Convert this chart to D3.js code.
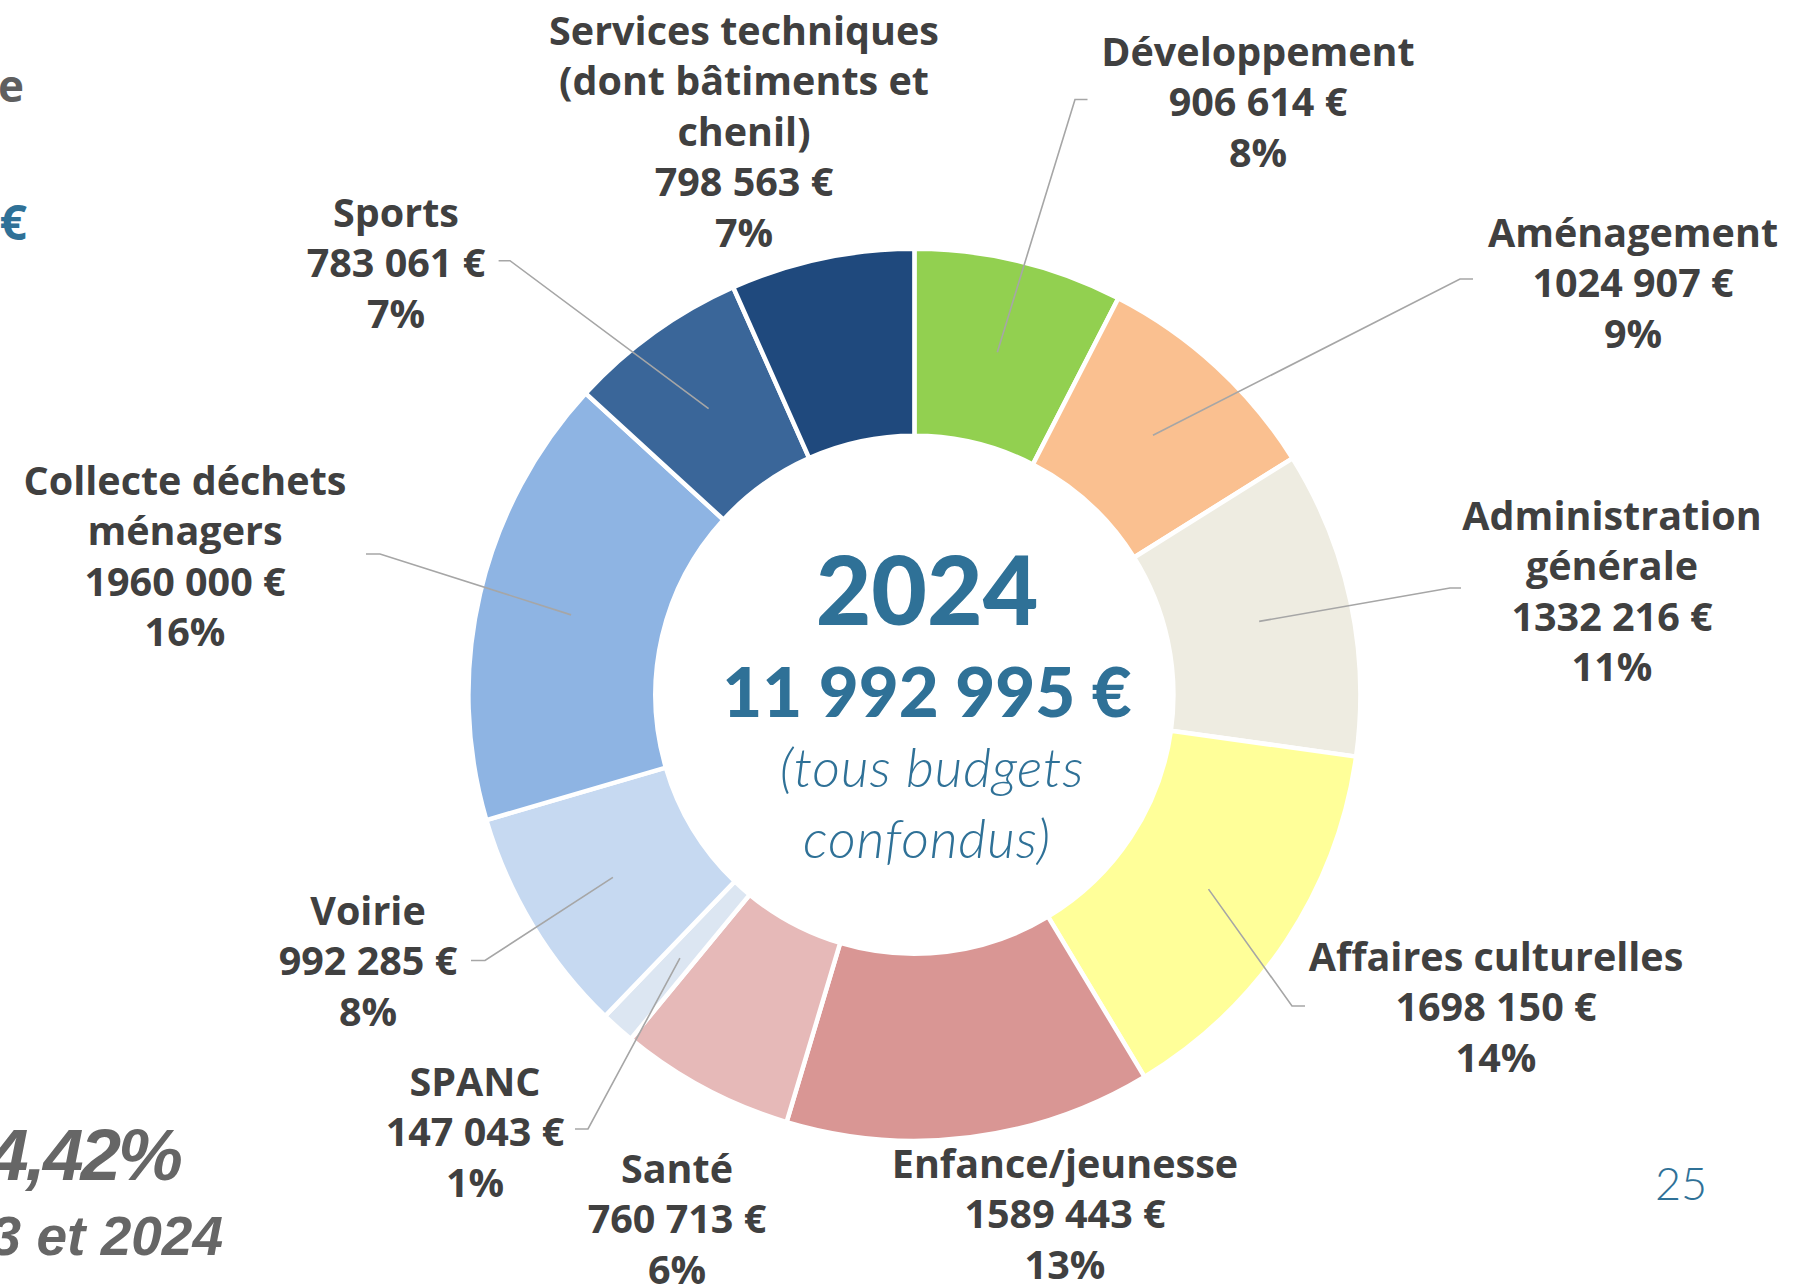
<!DOCTYPE html>
<html><head><meta charset="utf-8">
<script src="https://cdn.jsdelivr.net/npm/d3@7"></script>
<style>body{margin:0;background:#fff;overflow:hidden}</style>
</head><body>
<svg id="c" width="1793" height="1286"></svg>
<script>
// ---- data ----
const categories = ["Développement","Aménagement","Administration générale","Affaires culturelles","Enfance/jeunesse","Santé","SPANC","Voirie","Collecte déchets ménagers","Sports","Services techniques (dont bâtiments et chenil)"];
const values = [906614,1024907,1332216,1698150,1589443,760713,147043,992285,1960000,783061,798563];
const nameLines = [["Développement"],["Aménagement"],["Administration","générale"],["Affaires culturelles"],["Enfance/jeunesse"],["Santé"],["SPANC"],["Voirie"],["Collecte déchets","ménagers"],["Sports"],["Services techniques","(dont bâtiments et","chenil)"]];
const centerYear = "2024";
const centerNote = ["(tous budgets","confondus)"];
const pageNumber = "25";
const sideTexts = ["e","€","4,42%","3 et 2024"];

// ---- styles / layout ----
const colors = ["#92D050","#FAC090","#EEECE1","#FFFF99","#D99694","#E6B9B8","#DCE6F2","#C6D9F1","#8EB4E3","#3A6699","#1F497D"];
const labelLayout = [
  {x:1258, y:66,  elbow:[1075,99.5],  end:[1087.5,99.5]},
  {x:1633, y:247, elbow:[1460,279],   end:[1473,279]},
  {x:1612, y:530, elbow:[1450,588],   end:[1461,588]},
  {x:1496, y:971, elbow:[1292,1006],  end:[1305,1006]},
  {x:1065, y:1178, elbow:null, end:null},
  {x:677,  y:1183, elbow:null, end:null},
  {x:475,  y:1096, elbow:[588,1129],  end:[575,1129]},
  {x:368,  y:925,  elbow:[485,960.5], end:[471,960.5]},
  {x:185,  y:495,  elbow:[380,554],   end:[366,554]},
  {x:396,  y:227,  elbow:[510,260.7], end:[498.6,260.7]},
  {x:744,  y:45,   elbow:null, end:null}
];
const lineH = 50.4;
const cx = 914.4, cy = 694.8, R = 446, r = 259;

const total = d3.sum(values);
const fmtThousands = v => Math.floor(v/1000) + " " + String(v % 1000).padStart(3,"0") + " €";
const fmtTotal = v => d3.formatLocale({decimal:",",thousands:" ",grouping:[3],currency:[""," €"]}).format(",.0f")(v) + " €";
const pct = v => Math.round(v/total*100) + "%";

const svg = d3.select("#c");
const g = svg.append("g").attr("transform", `translate(${cx},${cy})`);

const pie = d3.pie().sort(null).value(d => d).startAngle(0).endAngle(2*Math.PI);
const arcs = pie(values);
const arc = d3.arc().innerRadius(r).outerRadius(R);
const mid = d3.arc().innerRadius((R+r)/2).outerRadius((R+r)/2);

g.selectAll("path.slice").data(arcs).enter().append("path")
  .attr("class","slice")
  .attr("d", arc)
  .attr("fill", (d,i) => colors[i])
  .attr("stroke","#fff").attr("stroke-width",4.5).attr("stroke-linejoin","miter");

// leader lines
arcs.forEach((d,i) => {
  const L = labelLayout[i];
  if (!L.elbow) return;
  const c = mid.centroid(d);
  const p0 = [cx + c[0], cy + c[1]];
  svg.append("polyline")
    .attr("points", [p0, L.elbow, L.end].map(p => p.join(",")).join(" "))
    .attr("fill","none").attr("stroke","#A6A6A6").attr("stroke-width",1.6);
});

// labels
const labelFont = "'Open Sans', 'DejaVu Sans', sans-serif";
arcs.forEach((d,i) => {
  const L = labelLayout[i];
  const lines = nameLines[i].concat([fmtThousands(values[i]), pct(values[i])]);
  const t = svg.append("text")
    .attr("x", L.x).attr("y", L.y)
    .attr("text-anchor","middle")
    .attr("font-family", labelFont).attr("font-weight",700).attr("font-size",39.5)
    .attr("fill","#404040");
  lines.forEach((s,k) => t.append("tspan").attr("x", L.x).attr("y", L.y + k*lineH).text(s));
});

// center text
const blue = "#2F7197";
const tcx = 927;
svg.append("text").attr("x", tcx).attr("y", 625).attr("text-anchor","middle")
  .attr("font-family","Lato, 'Open Sans', sans-serif").attr("font-weight",900).attr("font-size",96)
  .attr("fill",blue).text(centerYear);
svg.append("text").attr("x", tcx).attr("y", 717).attr("text-anchor","middle")
  .attr("font-family","Lato, 'Open Sans', sans-serif").attr("font-weight",900).attr("font-size",69)
  .attr("fill",blue).text(fmtTotal(total));
centerNote.forEach((s,k) => {
  svg.append("text").attr("x", tcx + (k===0?5:0)).attr("y", 787 + k*71).attr("text-anchor","middle")
    .attr("font-family","Lato, 'Open Sans', sans-serif").attr("font-weight",300).attr("font-style","italic")
    .attr("font-size",54).attr("letter-spacing",0.8).attr("fill",blue).text(s);
});

// page number
svg.append("text").attr("x",1655).attr("y",1200)
  .attr("font-family","Lato, sans-serif").attr("font-weight",300).attr("font-size",45)
  .attr("fill",blue).text(pageNumber);

// clipped side texts from neighbouring text box
svg.append("text").attr("x",24).attr("y",102).attr("text-anchor","end")
  .attr("font-family",labelFont).attr("font-weight",700).attr("font-size",44)
  .attr("fill","#5F5F5F").text(sideTexts[0]);
svg.append("text").attr("x",27).attr("y",240).attr("text-anchor","end")
  .attr("font-family",labelFont).attr("font-weight",700).attr("font-size",48)
  .attr("fill",blue).text(sideTexts[1]);
svg.append("text").attr("x",-12).attr("y",1180)
  .attr("font-family","'Liberation Sans', Arial, sans-serif").attr("font-weight",700).attr("font-style","italic").attr("font-size",73)
  .attr("letter-spacing",-3).attr("fill","#666666").text(sideTexts[2]);
svg.append("text").attr("x",223).attr("y",1255).attr("text-anchor","end")
  .attr("font-family","'Liberation Sans', Arial, sans-serif").attr("font-weight",700).attr("font-style","italic").attr("font-size",55)
  .attr("fill","#666666").text(sideTexts[3]);
</script>
</body></html>
